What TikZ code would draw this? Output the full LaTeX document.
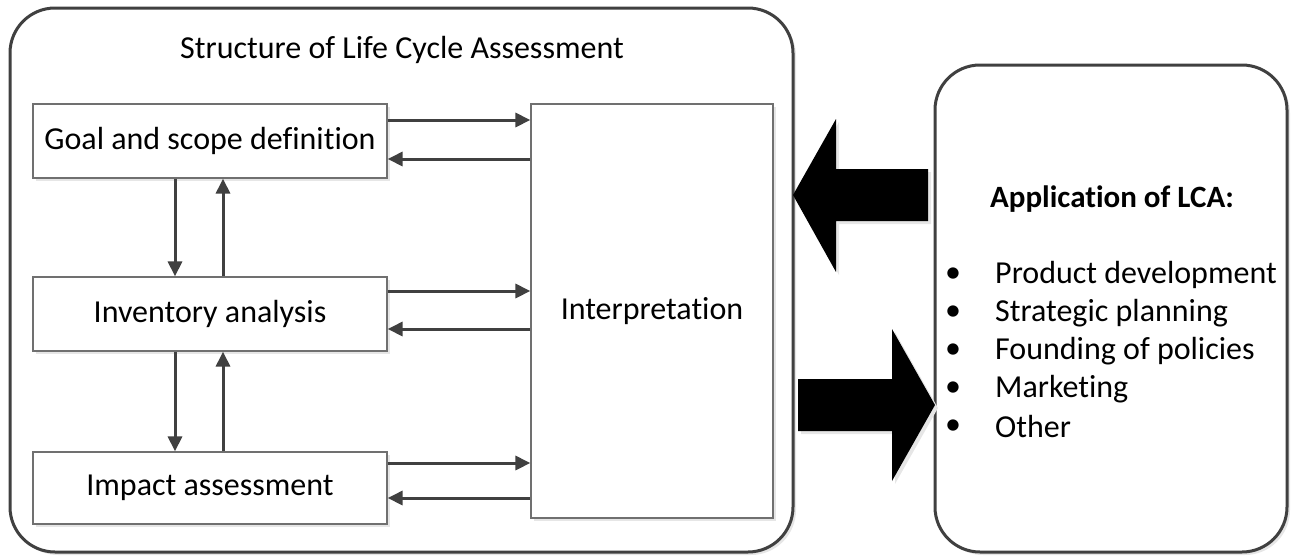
\documentclass[tikz,border=0pt]{standalone}
\usepackage{fontspec}
\setmainfont{Carlito}[Ligatures=NoCommon]
\usepackage{xcolor}
\usetikzlibrary{arrows.meta,shadows}
\definecolor{linegray}{HTML}{404040}
\definecolor{boxgray}{HTML}{707070}
\definecolor{shadegray}{HTML}{E6E6E6}

\begin{document}
\begin{tikzpicture}[x=1pt,y=-1pt,
    bigfont/.style={font=\fontsize{32}{38}\selectfont},
    frame/.style={draw=linegray,line width=3pt,rounded corners=45pt,
        drop shadow={shadow xshift=3pt,shadow yshift=-3pt,fill=shadegray,opacity=1}},
    stage/.style={draw=boxgray,line width=1.2pt,fill=white,bigfont,
        minimum width=354pt,minimum height=74pt,inner sep=0pt,
        drop shadow={shadow xshift=3pt,shadow yshift=-3pt,fill=shadegray,opacity=1}},
    link/.style={draw=linegray,line width=3pt,-{Triangle[length=15pt,width=14pt]}},
    fatarrow/.style={fill=black,
        drop shadow={shadow xshift=3pt,shadow yshift=-3pt,fill=shadegray,opacity=1}}]
    \useasboundingbox (0,0) rectangle (1291,557);

    % Outer frames
    \draw[frame,fill=white] (10,8) rectangle (793,552);
    \draw[frame,fill=white] (935,65) rectangle (1287,552);

    \node[bigfont] (title) at (402,50) {Structure of Life Cycle Assessment};

    % LCA phases
    \node[stage] (goal) at (210,141) {Goal and scope definition};
    \node[stage] (inv) at (210,314) {Inventory analysis};
    \node[stage,minimum height=72pt] (imp) at (210,488) {Impact assessment};
    \node[stage,minimum width=242pt,minimum height=414pt] (interp) at (652,311) {Interpretation};

    % Links to and from interpretation
    \foreach \n/\a/\b in {goal/120/159,inv/291/329,imp/463/498} {
        \draw[link] (\n.east |- 0,\a) -- (interp.west |- 0,\a);
        \draw[link] (interp.west |- 0,\b) -- (\n.east |- 0,\b);
    }

    % Vertical links between phases
    \draw[link] (goal.south -| 175,0) -- (inv.north -| 175,0);
    \draw[link] (inv.north -| 223,0) -- (goal.south -| 223,0);
    \draw[link] (inv.south -| 175,0) -- (imp.north -| 175,0);
    \draw[link] (imp.north -| 223,0) -- (inv.south -| 223,0);

    % Big arrows
    \fill[fatarrow] (793,195) -- (836,119) -- (836,169) -- (928,169) -- (928,221)
        -- (836,221) -- (836,272) -- cycle;
    \fill[fatarrow] (798,379) -- (892,379) -- (892,329) -- (935,405) -- (892,481)
        -- (892,431) -- (798,431) -- cycle;

    % Applications
    \node[font=\fontsize{31}{37}\selectfont\bfseries] (apps) at (1112,199) {Application of LCA:};
    \foreach \t [count=\i from 0] in {Product development,Strategic planning,
        Founding of policies,Marketing,Other} {
        \node[bigfont] (dot\i) at (953,{275+38*\i}) {\textbullet};
        \node[bigfont,anchor=west,inner sep=0pt] (item\i) at (995,{275+38*\i}) {\t};
    }
\end{tikzpicture}
\end{document}
